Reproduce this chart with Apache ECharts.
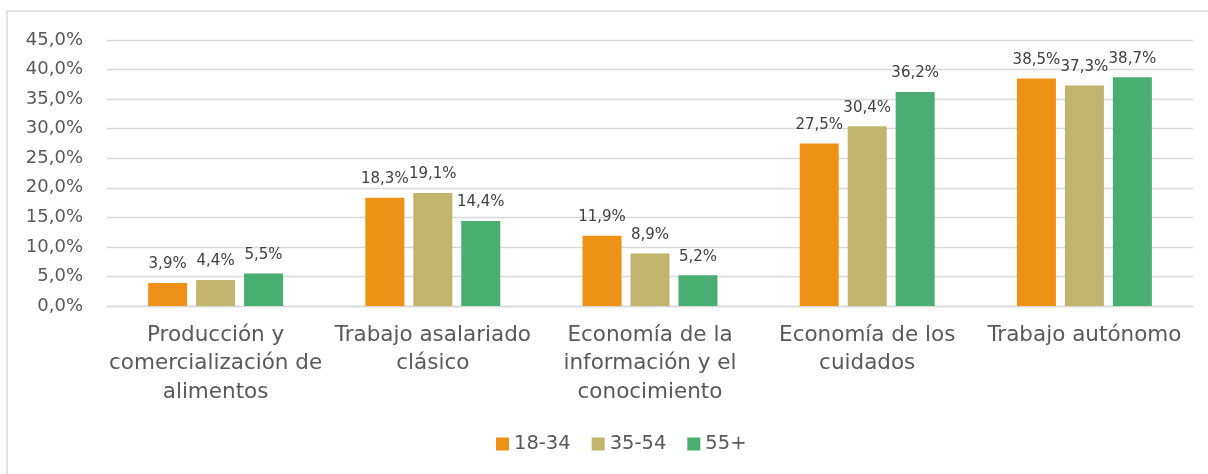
<!DOCTYPE html>
<html>
<head>
<meta charset="utf-8">
<script src="https://cdn.jsdelivr.net/npm/echarts@6/dist/echarts.min.js"></script>
<style>
  html, body { margin: 0; padding: 0; background: #fff; }
  #chart { width: 1208px; height: 474px; }
</style>
</head>
<body>
<div id="chart"></div>
<script>
// categorías (con saltos de línea como en el original)
var categorias = [
  'Producción y\ncomercialización de\nalimentos',
  'Trabajo asalariado\nclásico',
  'Economía de la\ninformación y el\nconocimiento',
  'Economía de los\ncuidados',
  'Trabajo autónomo'
];
var grupos = ['18-34', '35-54', '55+'];
var edad18_34 = [3.9, 18.3, 11.9, 27.5, 38.5];
var edad35_54 = [4.4, 19.1, 8.9, 30.4, 37.3];
var edad55 = [5.5, 14.4, 5.2, 36.2, 38.7];
var colores = ['#ED9117', '#C1B46C', '#4AAE72'];

var fuente = 'DejaVu Sans';

function coma(v) {
  return v.toFixed(1).replace('.', ',') + '%';
}

var myChart = echarts.init(document.getElementById('chart'));

var datos = [edad18_34, edad35_54, edad55];
var series = datos.map(function (d, i) {
  return {
    name: grupos[i],
    type: 'bar',
    data: d,
    barWidth: 39,
    barGap: '23%',
    itemStyle: { color: colores[i] },
    label: {
      show: true,
      position: 'top',
      distance: 11,
      color: '#404040',
      fontFamily: fuente,
      fontSize: 15,
      formatter: function (p) { return coma(p.value); }
    }
  };
});

var option = {
  animation: false,
  textStyle: { fontFamily: fuente },
  graphic: [{
    type: 'rect',
    shape: { x: 7, y: 11, width: 1215, height: 475 },
    style: { fill: 'none', stroke: '#d9d9d9', lineWidth: 1.5 },
    silent: true
  }],
  legend: {
    data: grupos,
    top: 429,
    left: 491,
    itemWidth: 13,
    itemHeight: 13,
    itemGap: 21,
    icon: 'rect',
    textStyle: { color: '#595959', fontSize: 19.5, fontFamily: fuente }
  },
  grid: {
    left: 107,
    right: 15,
    top: 40,
    height: 266,
    containLabel: false
  },
  xAxis: {
    type: 'category',
    data: categorias,
    axisTick: { show: false },
    axisLine: { lineStyle: { color: '#d9d9d9', width: 1.3 } },
    axisLabel: {
      color: '#595959',
      fontSize: 21.5,
      lineHeight: 28.5,
      margin: 15,
      interval: 0,
      fontFamily: fuente
    }
  },
  yAxis: {
    type: 'value',
    min: 0,
    max: 45,
    interval: 5,
    axisLine: { show: false },
    axisTick: { show: false },
    splitLine: { lineStyle: { color: '#d9d9d9', width: 1.3 } },
    axisLabel: {
      color: '#595959',
      fontSize: 18,
      margin: 24,
      fontFamily: fuente,
      formatter: function (v) { return coma(v); }
    }
  },
  series: series
};

myChart.setOption(option);
</script>
</body>
</html>
